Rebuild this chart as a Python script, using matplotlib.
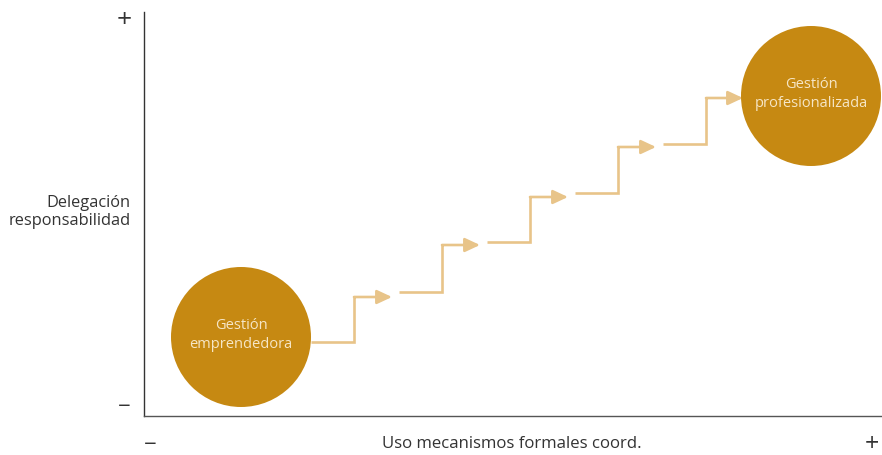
import matplotlib.pyplot as plt
from matplotlib.patches import Circle

plt.rcParams['font.family'] = ['Open Sans', 'DejaVu Sans']

# stage circles (centre x, centre y, label)
circle_x = [97, 667]
circle_y = [79, 320]
circle_r = 70
circle_labels = ['Gestión\nemprendedora', 'Gestión\nprofesionalizada']

# staircase steps: start x, corner x, arrow end x, low y, high y
step_start = [167, 255, 343, 431, 519]
step_mid = [210, 298, 386, 474, 562]
step_end = [248, 336, 424, 512, 599]
step_low = [74, 124, 174, 223, 272]
step_high = [119, 171, 219, 269, 318]

gold = '#C68912'
tan = '#E8C489'
ink = '#333333'

fig = plt.figure(figsize=(8.82, 4.55), dpi=100)
ax = fig.add_axes([144/882, 39/455, 737/882, 404/455])
ax.set_xlim(0, 737)
ax.set_ylim(0, 404)

for sx, mx, ex, ly, hy in zip(step_start, step_mid, step_end, step_low, step_high):
    ax.plot([sx, mx, mx, mx + 1], [ly, ly, hy, hy], color=tan, lw=1.9,
            solid_joinstyle='miter', solid_capstyle='butt')
    ax.annotate('', xy=(ex, hy), xytext=(mx, hy),
                arrowprops=dict(arrowstyle='-|>,head_length=0.9,head_width=0.42',
                                color=tan, lw=1.9, shrinkA=0, shrinkB=0))

for cx, cy, lab in zip(circle_x, circle_y, circle_labels):
    ax.add_patch(Circle((cx, cy), circle_r, color=gold, ec='none', zorder=3))
    ax.text(cx, cy + 2, lab, ha='center', va='center', color='#F6E6C6',
            fontsize=10.5, linespacing=1.45, zorder=4)

for s in ['top', 'right']:
    ax.spines[s].set_visible(False)
ax.spines['left'].set_color(ink)
ax.spines['bottom'].set_color('#555555')
ax.spines['left'].set_linewidth(1.0)
ax.spines['bottom'].set_linewidth(1.0)
ax.set_xticks([])
ax.set_yticks([])

fig.text(124/882, 1 - 20/455, '+', ha='center', va='center', fontsize=19, color=ink)
fig.text(124/882, 1 - 407/455, '−', ha='center', va='center', fontsize=16, color=ink)
fig.text(150/882, 1 - 445/455, '−', ha='center', va='center', fontsize=16, color=ink)
fig.text(872/882, 1 - 444/455, '+', ha='center', va='center', fontsize=18, color=ink)
fig.text(131/882, 1 - 212/455, 'Delegación\nresponsabilidad', ha='right', va='center',
         fontsize=11.8, color=ink, linespacing=1.2)
fig.text(512/882, 1 - 444/455, 'Uso mecanismos formales coord.', ha='center', va='center',
         fontsize=12.1, color=ink)

fig.savefig('out.png', dpi=100)
